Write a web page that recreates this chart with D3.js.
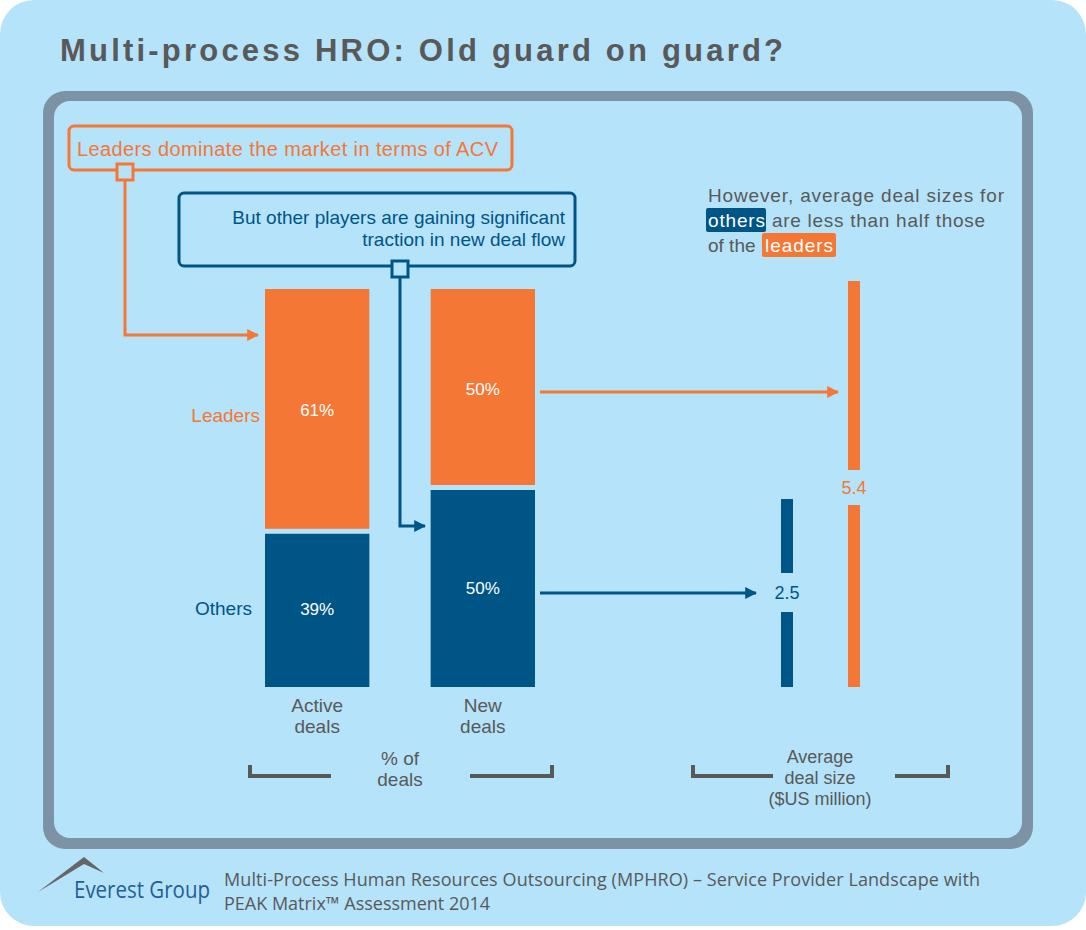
<!DOCTYPE html>
<html><head><meta charset="utf-8">
<script src="https://cdn.jsdelivr.net/npm/d3@7"></script>
<style>body{margin:0;background:#fff}svg{display:block;font-family:Arial,"Liberation Sans",sans-serif}</style>
</head><body><svg width="1086" height="930"></svg>
<script>
var groups = ["Leaders", "Others"];
var dealTypes = ["Active deals", "New deals"];
var shareActive = [61, 39];
var shareNew = [50, 50];
var avgSize = [5.4, 2.5];

var ORANGE = "#f47735", BLUE = "#005587", GREY = "#595959", BG = "#b5e3fa";
var svg = d3.select("svg");

svg.append("rect").attr("x", 0).attr("y", 0).attr("width", 1086).attr("height", 926).attr("rx", 34).attr("fill", BG);
svg.append("text").attr("x", 60).attr("y", 61).attr("font-size", 31).attr("font-weight", "bold").attr("fill", GREY)
  .attr("textLength", 723).text("Multi-process HRO: Old guard on guard?");
svg.append("rect").attr("x", 43).attr("y", 91).attr("width", 990).attr("height", 758).attr("rx", 22).attr("fill", "#7d93a5");
svg.append("rect").attr("x", 54).attr("y", 101).attr("width", 968).attr("height", 737).attr("rx", 16).attr("fill", BG);

// share bars
var y = d3.scaleLinear().domain([0, 100]).range([687, 289]);
var x = d3.scaleBand().domain(dealTypes).range([265, 535]).paddingInner(0.37);
var shares = [shareActive, shareNew];
shares.forEach(function (s, j) {
  var lead = s[0], oth = s[1];
  var gx = x(dealTypes[j]), w = x.bandwidth();
  svg.append("rect").attr("x", gx).attr("y", y(100)).attr("width", w).attr("height", y(oth) - y(100) - 3).attr("fill", ORANGE);
  svg.append("rect").attr("x", gx).attr("y", y(oth) + 2).attr("width", w).attr("height", y(0) - y(oth) - 2).attr("fill", BLUE);
  svg.append("text").attr("x", gx + w / 2).attr("y", (y(100) + y(oth)) / 2 + 6).attr("text-anchor", "middle").attr("fill", "#fff").attr("font-size", 17).text(lead + "%");
  svg.append("text").attr("x", gx + w / 2).attr("y", (y(oth) + y(0)) / 2 + 6).attr("text-anchor", "middle").attr("fill", "#fff").attr("font-size", 17).text(oth + "%");
  var parts = dealTypes[j].split(" ");
  parts.forEach(function (p, k) {
    svg.append("text").attr("x", gx + w / 2).attr("y", 712 + k * 21).attr("text-anchor", "middle").attr("fill", GREY).attr("font-size", 19).text(p);
  });
});
svg.append("text").attr("x", 260).attr("y", 422).attr("text-anchor", "end").attr("fill", ORANGE).attr("font-size", 19).text(groups[0]);
svg.append("text").attr("x", 252).attr("y", 615).attr("text-anchor", "end").attr("fill", BLUE).attr("font-size", 19).text(groups[1]);

// avg size bars
var ya = d3.scaleLinear().domain([0, 5.4]).range([687, 281]);
var ax = [848, 781], acol = [ORANGE, BLUE], gap = [[470, 505], [573, 612]];
avgSize.forEach(function (v, i) {
  svg.append("rect").attr("x", ax[i]).attr("y", ya(v)).attr("width", 12).attr("height", gap[i][0] - ya(v)).attr("fill", acol[i]);
  svg.append("rect").attr("x", ax[i]).attr("y", gap[i][1]).attr("width", 12).attr("height", ya(0) - gap[i][1]).attr("fill", acol[i]);
  svg.append("text").attr("x", ax[i] + 6).attr("y", (gap[i][0] + gap[i][1]) / 2 + 6).attr("text-anchor", "middle").attr("fill", acol[i]).attr("font-size", 18).text(v);
});

var defs = svg.append("defs");
[["ao", ORANGE], ["ab", BLUE]].forEach(function (m) {
  defs.append("marker").attr("id", m[0]).attr("viewBox", "0 0 10 10").attr("refX", 9).attr("refY", 5)
    .attr("markerWidth", 4).attr("markerHeight", 4).attr("orient", "auto")
    .append("path").attr("d", "M0,0L10,5L0,10z").attr("fill", m[1]);
});
function arrow(pts, col, id) {
  svg.append("path").attr("d", d3.line()(pts)).attr("fill", "none").attr("stroke", col).attr("stroke-width", 3).attr("marker-end", "url(#" + id + ")");
}
arrow([[540, 392], [838, 392]], ORANGE, "ao");
arrow([[540, 593], [756, 593]], BLUE, "ab");
arrow([[125, 180], [125, 335], [258, 335]], ORANGE, "ao");
arrow([[400, 276], [400, 526], [425, 526]], BLUE, "ab");

// callouts
svg.append("rect").attr("x", 69).attr("y", 126).attr("width", 443).attr("height", 44).attr("rx", 5).attr("fill", BG).attr("stroke", ORANGE).attr("stroke-width", 3);
svg.append("text").attr("x", 77).attr("y", 156).attr("fill", ORANGE).attr("font-size", 20).attr("textLength", 421).text("Leaders dominate the market in terms of ACV");
svg.append("rect").attr("x", 117).attr("y", 164).attr("width", 16).attr("height", 16).attr("fill", BG).attr("stroke", ORANGE).attr("stroke-width", 3);
svg.append("rect").attr("x", 179).attr("y", 193).attr("width", 396).attr("height", 73).attr("rx", 5).attr("fill", BG).attr("stroke", BLUE).attr("stroke-width", 3);
["But other players are gaining significant", "traction in new deal flow"].forEach(function (t, k) {
  svg.append("text").attr("x", 565).attr("y", 224 + k * 22).attr("text-anchor", "end").attr("fill", BLUE).attr("font-size", 19).text(t);
});
svg.append("rect").attr("x", 392).attr("y", 261).attr("width", 16).attr("height", 16).attr("fill", BG).attr("stroke", BLUE).attr("stroke-width", 3);

// note
svg.append("text").attr("x", 708).attr("y", 202).attr("fill", GREY).attr("font-size", 19).attr("textLength", 296).text("However, average deal sizes for");
svg.append("rect").attr("x", 706).attr("y", 208).attr("width", 60).attr("height", 24).attr("rx", 2).attr("fill", BLUE);
svg.append("text").attr("x", 708).attr("y", 227).attr("fill", "#fff").attr("font-size", 19).attr("textLength", 57).text("others");
svg.append("text").attr("x", 772).attr("y", 227).attr("fill", GREY).attr("font-size", 19).attr("textLength", 213).text("are less than half those");
svg.append("text").attr("x", 708).attr("y", 252).attr("fill", GREY).attr("font-size", 19).text("of the");
svg.append("rect").attr("x", 762).attr("y", 233).attr("width", 74).attr("height", 24).attr("rx", 2).attr("fill", ORANGE);
svg.append("text").attr("x", 765).attr("y", 252).attr("fill", "#fff").attr("font-size", 19).attr("textLength", 68).text("leaders");

// brackets
function bracket(x0, x1, tickLeft) {
  var p = tickLeft ? [[x0, 765], [x0, 776], [x1, 776]] : [[x0, 776], [x1, 776], [x1, 765]];
  svg.append("path").attr("d", d3.line()(p)).attr("fill", "none").attr("stroke", GREY).attr("stroke-width", 4);
}
bracket(250, 331, true); bracket(470, 552, false);
bracket(693, 773, true); bracket(895, 948, false);
["% of", "deals"].forEach(function (t, k) {
  svg.append("text").attr("x", 400).attr("y", 765 + k * 21).attr("text-anchor", "middle").attr("fill", GREY).attr("font-size", 19).text(t);
});
["Average", "deal size", "($US million)"].forEach(function (t, k) {
  svg.append("text").attr("x", 820).attr("y", 763 + k * 21).attr("text-anchor", "middle").attr("fill", GREY).attr("font-size", 18).text(t);
});

// footer
svg.append("path").attr("d", "M38,892L84,857L104,873L84,864Z").attr("fill", "#666");
svg.append("text").attr("x", 74).attr("y", 898).attr("fill", "#1f5f95").attr("font-size", 24).attr("font-family", "'Open Sans',sans-serif").attr("textLength", 136).attr("lengthAdjust", "spacingAndGlyphs").text("Everest Group");
svg.append("text").attr("x", 224).attr("y", 886).attr("fill", GREY).attr("font-size", 18).attr("font-family", "'Open Sans',sans-serif").attr("textLength", 756)
  .text("Multi-Process Human Resources Outsourcing (MPHRO) \u2013 Service Provider Landscape with");
svg.append("text").attr("x", 224).attr("y", 910).attr("fill", GREY).attr("font-size", 18).attr("font-family", "'Open Sans',sans-serif")
  .text("PEAK Matrix\u2122 Assessment 2014");
</script></body></html>
